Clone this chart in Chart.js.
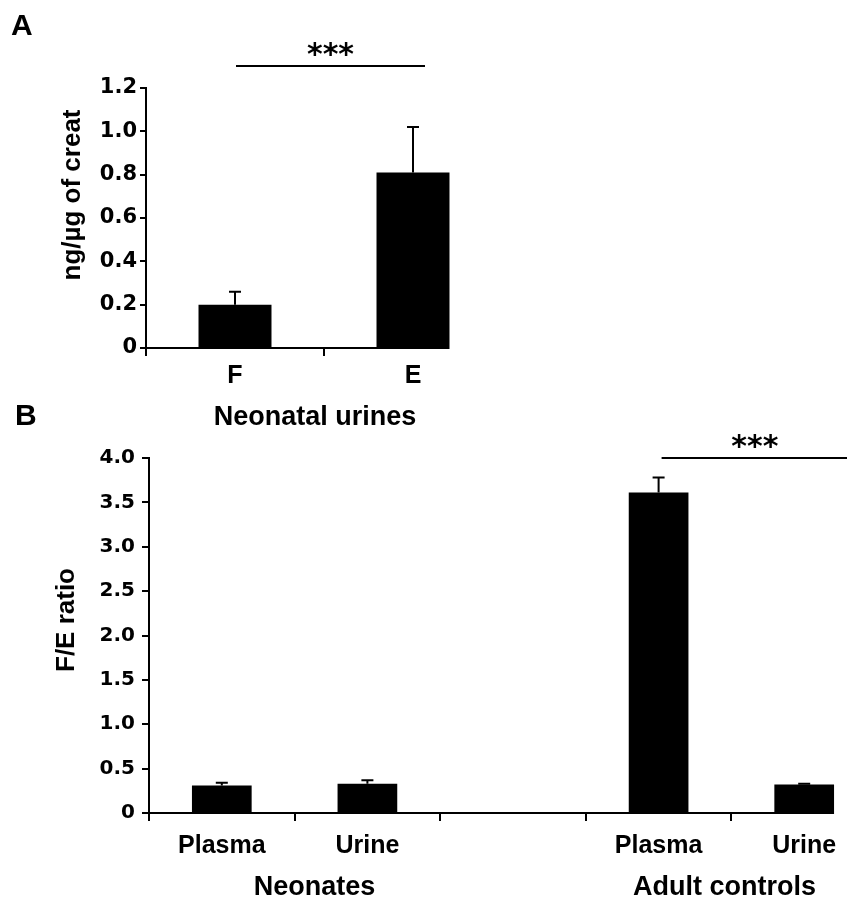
<!DOCTYPE html>
<html>
<head>
<meta charset="utf-8">
<script src="https://cdn.jsdelivr.net/npm/chart.js@4.4.1/dist/chart.umd.min.js"></script>
<style>
body { margin: 0; background: #fff; }
#page { position: relative; width: 847px; height: 900px; overflow: hidden; background: #fff; }
#chartA { position: absolute; left: 0; top: 0; }
#chartB { position: absolute; left: 0; top: 390px; }
</style>
</head>
<body>
<div id="page">
    <canvas id="chartA" width="847" height="440"></canvas>
    <canvas id="chartB" width="900" height="510"></canvas>
</div>
<script>
var ARIAL = '"Liberation Sans", Arial, sans-serif';
var WIDE = '"DejaVu Sans", sans-serif';

// panel A - neonatal urines
var urineLabels = ['F', 'E'];
var urineMeans = [0.2, 0.81];
var urineSem = [0.06, 0.21];
var urineTicks = [0, 0.2, 0.4, 0.6, 0.8, 1.0, 1.2];

// panel B - F/E ratio
var ratioLabels = ['Plasma', 'Urine', '', 'Plasma', 'Urine'];
var ratioMeans = [0.31, 0.33, null, 3.61, 0.32];
var ratioSem = [0.03, 0.04, null, 0.17, 0.01];
var ratioTicks = [0, 0.5, 1.0, 1.5, 2.0, 2.5, 3.0, 3.5, 4.0];
var groupLabels = ['Neonates', 'Adult controls'];

function tickText(v) {
    return v === 0 ? '0' : v.toFixed(1);
}

function text(ctx, str, x, y, font, align, rot) {
    ctx.save();
    ctx.font = font;
    ctx.fillStyle = '#000';
    ctx.textAlign = align || 'center';
    ctx.textBaseline = rot ? 'middle' : 'alphabetic';
    ctx.translate(x, y);
    if (rot) ctx.rotate(rot);
    ctx.fillText(str, 0, 0);
    ctx.restore();
}

function figurePlugin(cfg) {
    return {
        id: 'figure',
        afterDatasetsDraw: function (chart) {
            var ctx = chart.ctx;
            var area = chart.chartArea;
            var x = chart.scales.x;
            var y = chart.scales.y;
            var bars = chart.getDatasetMeta(0).data;

            ctx.save();
            ctx.strokeStyle = '#000';
            ctx.lineWidth = 2;

            // upper error bars
            bars.forEach(function (bar, i) {
                if (cfg.means[i] == null) return;
                var top = y.getPixelForValue(cfg.means[i] + cfg.sem[i]);
                ctx.beginPath();
                ctx.moveTo(bar.x, bar.y);
                ctx.lineTo(bar.x, top);
                ctx.moveTo(bar.x - 6, top);
                ctx.lineTo(bar.x + 6, top);
                ctx.stroke();
            });

            // x axis stops at the right edge of the last bar
            var last = bars[bars.length - 1];
            ctx.beginPath();
            ctx.moveTo(area.left - 1, area.bottom);
            ctx.lineTo(last.x + last.width / 2, area.bottom);
            ctx.stroke();

            // significance line
            var x0 = x.getPixelForValue(cfg.sig.from) + cfg.sig.fromOff;
            var x1 = x.getPixelForValue(cfg.sig.to) + cfg.sig.toOff;
            var sy = area.top + cfg.sig.dy;
            ctx.beginPath();
            ctx.moveTo(x0, sy);
            ctx.lineTo(x1, sy);
            ctx.stroke();
            ctx.restore();

            text(ctx, '***', (x0 + x1) / 2, sy - 2, 'bold 30px ' + WIDE);
            text(ctx, cfg.letter, cfg.letterX, 35, 'bold 30px ' + ARIAL, 'left');
            text(ctx, cfg.yTitle, cfg.yTitleX, area.top + cfg.yTitleDy, 'bold 26px ' + ARIAL, 'center', -Math.PI / 2);

            cfg.groups.forEach(function (g) {
                var gx = (x.getPixelForValue(g.from) + x.getPixelForValue(g.to)) / 2 + g.off;
                text(ctx, g.label, gx, area.bottom + cfg.groupDy, 'bold 27px ' + ARIAL);
            });
        }
    };
}

function drawPanel(id, labels, means, ticks, tickFont, yLeft, xHeight, pad, plugin) {
    var ctx = document.getElementById(id).getContext('2d');
    return new Chart(ctx, {
        type: 'bar',
        data: {
            labels: labels,
            datasets: [{
                data: means,
                backgroundColor: '#000',
                borderWidth: 0,
                categoryPercentage: 1,
                barPercentage: 0.41
            }]
        },
        options: {
            responsive: false,
            animation: false,
            layout: { padding: pad },
            plugins: { legend: { display: false }, tooltip: { enabled: false } },
            scales: {
                x: {
                    border: { display: false },
                    grid: {
                        offset: true,
                        drawOnChartArea: false,
                        tickLength: 8,
                        lineWidth: 2,
                        color: function (c) { return c.type === 'tick' ? '#000' : 'rgba(0,0,0,0)'; }
                    },
                    ticks: {
                        color: '#000',
                        padding: pad.xPad,
                        font: { family: ARIAL, size: 25, weight: 'bold' }
                    },
                    afterFit: function (s) { s.height = xHeight; }
                },
                y: {
                    min: 0,
                    max: ticks[ticks.length - 1],
                    afterBuildTicks: function (s) {
                        s.ticks = ticks.map(function (v) { return { value: v }; });
                    },
                    border: { display: true, color: '#000', width: 2 },
                    grid: { drawOnChartArea: false, tickLength: pad.yTick, lineWidth: 2, color: '#000' },
                    ticks: {
                        color: '#000',
                        padding: pad.yPad,
                        font: { family: WIDE, size: tickFont, weight: 'bold' },
                        callback: function (v) { return tickText(v); }
                    },
                    afterFit: function (s) { s.width = yLeft; }
                }
            }
        },
        plugins: [plugin]
    });
}

drawPanel('chartA', urineLabels, urineMeans, urineTicks, 21, 146, 92,
    { top: 88, right: 345, left: 0, bottom: 0, xPad: 5, yTick: 6, yPad: 3 },
    figurePlugin({
        means: urineMeans, sem: urineSem,
        sig: { from: 0, fromOff: 1, to: 1, toOff: 12, dy: -22 },
        letter: 'A', letterX: 11,
        yTitle: 'ng/\u00b5g of creat', yTitleX: 73, yTitleDy: 107,
        groups: [{ label: 'Neonatal urines', from: 0, to: 1, off: -9 }],
        groupDy: 77
    }));

drawPanel('chartB', ratioLabels, ratioMeans, ratioTicks, 20, 149, 87,
    { top: 68, right: 23, left: 0, bottom: 0, xPad: 10, yTick: 7, yPad: 7 },
    figurePlugin({
        means: ratioMeans, sem: ratioSem,
        sig: { from: 3, fromOff: 3, to: 4, toOff: 44, dy: 0 },
        letter: 'B', letterX: 15,
        yTitle: 'F/E ratio', yTitleX: 67, yTitleDy: 162,
        groups: [
            { label: groupLabels[0], from: 0, to: 1, off: 20 },
            { label: groupLabels[1], from: 3, to: 4, off: -7 }
        ],
        groupDy: 82
    }));
</script>
</body>
</html>
